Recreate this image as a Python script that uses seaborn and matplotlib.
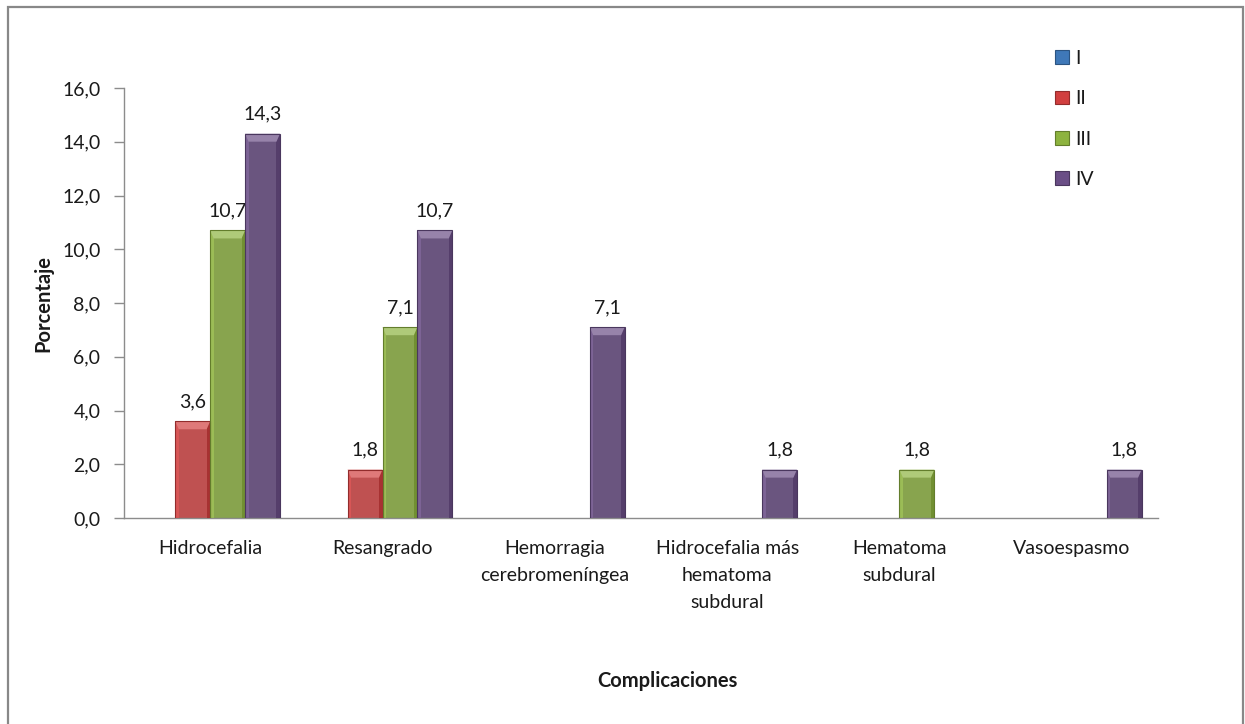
import matplotlib
matplotlib.use("Agg")
import matplotlib.pyplot as plt
import matplotlib.patches as mpatches
import matplotlib.colors as mcolors
from matplotlib.ticker import FuncFormatter
import seaborn as sns
import pandas as pd

categories = ["Hidrocefalia", "Resangrado", "Hemorragia\ncerebromeníngea",
              "Hidrocefalia más\nhematoma\nsubdural", "Hematoma\nsubdural", "Vasoespasmo"]
series = ["I", "II", "III", "IV"]
values_I = [0, 0, 0, 0, 0, 0]
values_II = [3.6, 1.8, 0, 0, 0, 0]
values_III = [10.7, 7.1, 0, 0, 1.8, 0]
values_IV = [14.3, 10.7, 7.1, 1.8, 0, 1.8]
yticks = [0, 2, 4, 6, 8, 10, 12, 14, 16]

colors = {"I": "#3F78B8", "II": "#D13F3F", "III": "#8DB33F", "IV": "#6A4E86"}

rows = []
for s, vals in zip(series, [values_I, values_II, values_III, values_IV]):
    for c, v in zip(categories, vals):
        rows.append({"Complicaciones": c, "Grado": s, "Porcentaje": v})
df = pd.DataFrame(rows)

sns.set_theme(style="white")
plt.rcParams["font.family"] = ["Lato", "DejaVu Sans"]

FS = 14
fig = plt.figure(figsize=(12.45, 7.24), dpi=100)
ax = fig.add_axes([124/1245, 1-518/724, 1034/1245, 430/724])

sns.barplot(data=df, x="Complicaciones", y="Porcentaje", hue="Grado",
            hue_order=series, order=categories, palette=colors,
            width=0.81, gap=0, errorbar=None, ax=ax, legend=False,
            edgecolor="none", linewidth=0)

def lighten(c, f):
    r, g, b = mcolors.to_rgb(c)
    return (r + (1-r)*f, g + (1-g)*f, b + (1-b)*f)

def darken(c, f):
    r, g, b = mcolors.to_rgb(c)
    return (r*(1-f), g*(1-f), b*(1-f))

px = 16.0/430  # data units per pixel (y)
for cont, s in zip(ax.containers, series):
    col = colors[s]
    vals = [values_I, values_II, values_III, values_IV][series.index(s)]
    labels = []
    for p, v in zip(cont.patches, vals):
        h = p.get_height()
        labels.append(f"{v:.1f}".replace(".", ",") if v > 0 else "")
        if h <= 0:
            continue
        x0 = p.get_x(); w = p.get_width()
        dx = w * 0.1
        bev = 8 * px
        ax.add_patch(mpatches.Rectangle((x0, 0), dx, h, color=lighten(col, 0.12), lw=0, zorder=3))
        ax.add_patch(mpatches.Rectangle((x0 + w - dx, 0), dx, h, color=darken(col, 0.2), lw=0, zorder=3))
        ax.add_patch(mpatches.Polygon([(x0, h), (x0 + w, h), (x0 + w - dx, h - bev), (x0 + dx, h - bev)],
                                      closed=True, color=lighten(col, 0.3), lw=0, zorder=4))
        ax.add_patch(mpatches.Rectangle((x0, 0), w, h, fill=False, ec=darken(col, 0.3), lw=0.8, zorder=5))
    ax.bar_label(cont, labels=labels, padding=8, fontsize=FS, color="#1a1a1a")

ax.set_ylim(0, 16)
ax.set_yticks(yticks)
ax.yaxis.set_major_formatter(FuncFormatter(lambda v, p: f"{v:.1f}".replace(".", ",")))
ax.set_xlim(-0.5, 5.5)

for sp in ["top", "right"]:
    ax.spines[sp].set_visible(False)
for sp in ["left", "bottom"]:
    ax.spines[sp].set_color("#8c8c8c")
    ax.spines[sp].set_linewidth(1)

ax.tick_params(axis="y", which="major", left=True, length=7, width=1, color="#8c8c8c",
               labelsize=FS, pad=10, labelcolor="#1a1a1a")
ax.tick_params(axis="x", bottom=False, labelsize=FS, pad=10, labelcolor="#1a1a1a")
for t in ax.get_xticklabels():
    t.set_linespacing(1.7)

ax.set_ylabel("Porcentaje", fontsize=14.5, fontweight="bold", color="#1a1a1a")
ax.yaxis.set_label_coords((53-124)/1034, 0.5)
ax.set_xlabel("Complicaciones", fontsize=14.5, fontweight="bold", color="#1a1a1a")
ax.xaxis.set_label_coords((667-124)/1034, (518-671)/430)

handles = [mpatches.Patch(facecolor=colors[s], edgecolor=darken(colors[s], 0.3), lw=0.8, label=s) for s in series]
fig.legend(handles=handles, loc="upper left", bbox_to_anchor=(1055/1245, 1-50/724),
           frameon=False, fontsize=FS, handlelength=0.7, handleheight=0.7,
           handletextpad=0.35, labelspacing=1.2, borderpad=0, borderaxespad=0,
           labelcolor="#1a1a1a")

fig.add_artist(mpatches.Rectangle((8/1245, -0.02), 1235/1245, 1.02 - 7/724,
                                  transform=fig.transFigure, fill=False,
                                  ec="#888888", lw=1.6, zorder=0))

fig.savefig("out.png", dpi=100, facecolor="white")
